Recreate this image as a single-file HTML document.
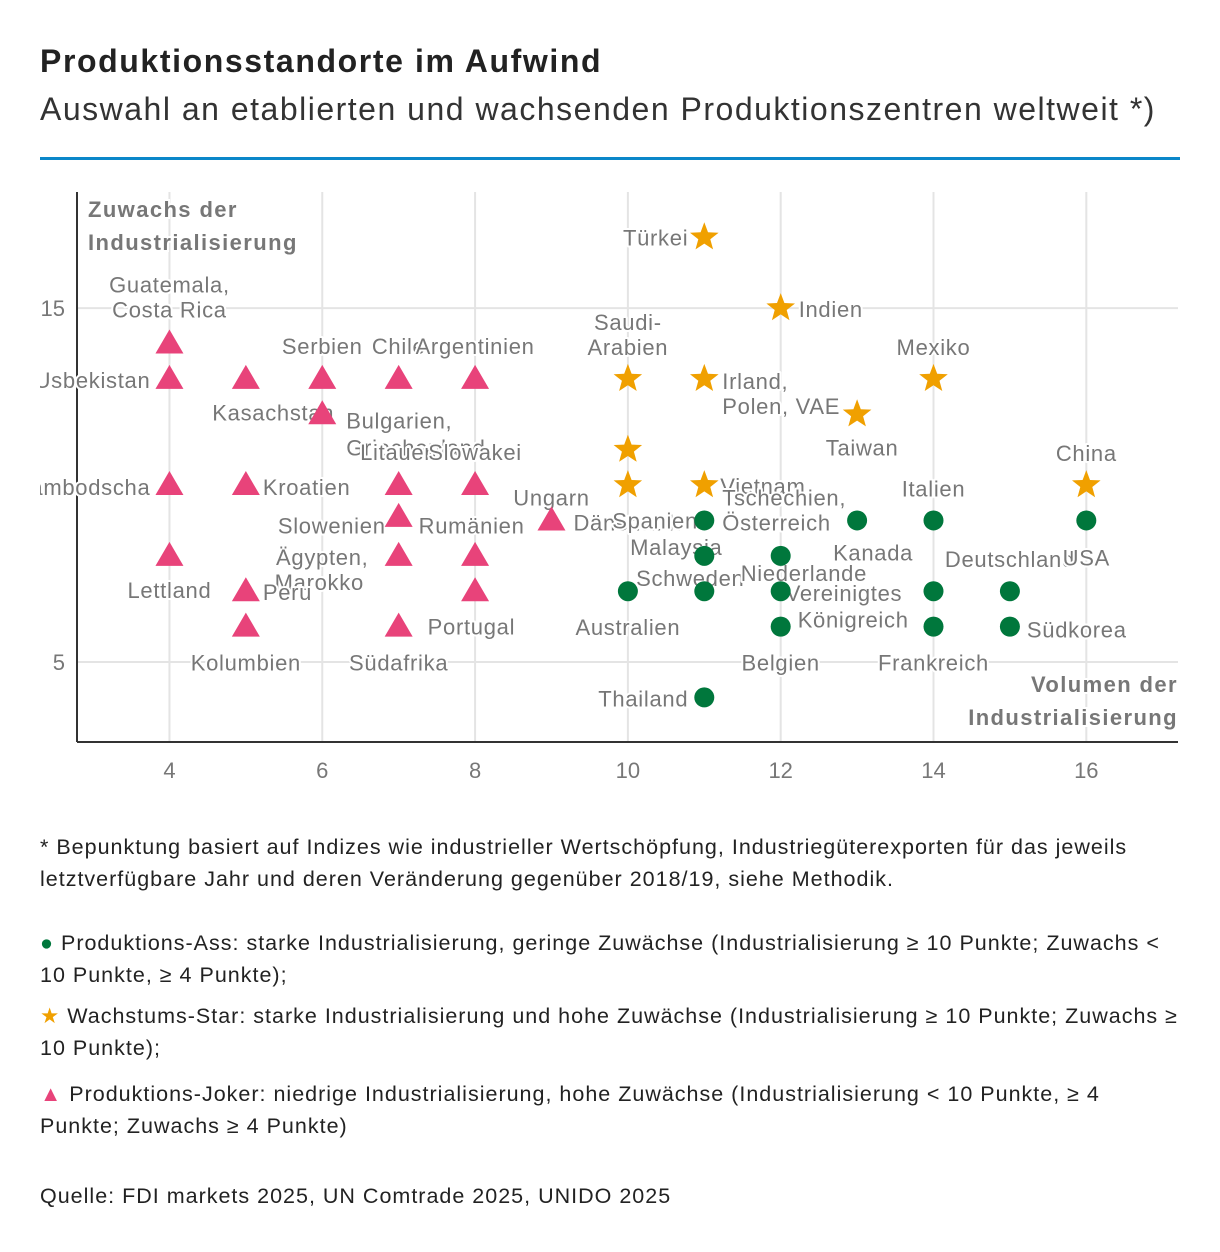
<!DOCTYPE html>
<html><head><meta charset="utf-8">
<style>
body{margin:0;background:#fff;width:1220px;height:1252px;overflow:hidden;font-family:"Liberation Sans",sans-serif;color:#222}
.t{position:absolute;left:40px;white-space:nowrap}
.note{position:absolute;left:40px;width:1145px;font-size:21.5px;letter-spacing:1px;line-height:32px;color:#222}
</style></head><body>
<div class="t" style="top:43px;font-size:32px;letter-spacing:1.6px;font-weight:bold">Produktionsstandorte im Aufwind</div>
<div class="t" style="top:91px;font-size:32px;letter-spacing:1.5px;color:#333">Auswahl an etablierten und wachsenden Produktionszentren weltweit *)</div>
<div style="position:absolute;left:40px;top:157px;width:1140px;height:3px;background:#0a87c9"></div>
<svg id="chart" width="1220" height="800" style="position:absolute;left:0;top:0" font-family="Liberation Sans, sans-serif"></svg>
<div class="note" style="top:831px">* Bepunktung basiert auf Indizes wie industrieller Wertschöpfung, Industriegüterexporten für das jeweils letztverfügbare Jahr und deren Veränderung gegenüber 2018/19, siehe Methodik.</div>
<div class="note" style="top:927px"><span style="color:#00773c">●</span> Produktions-Ass: starke Industrialisierung, geringe Zuwächse (Industrialisierung ≥ 10 Punkte; Zuwachs &lt; 10 Punkte, ≥ 4 Punkte);</div>
<div class="note" style="top:1000px"><span style="color:#f0a000">★</span> Wachstums-Star: starke Industrialisierung und hohe Zuwächse (Industrialisierung ≥ 10 Punkte; Zuwachs ≥ 10 Punkte);</div>
<div class="note" style="top:1078px"><span style="color:#e8437a">▲</span> Produktions-Joker: niedrige Industrialisierung, hohe Zuwächse (Industrialisierung &lt; 10 Punkte, ≥ 4 Punkte; Zuwachs ≥ 4 Punkte)</div>
<div class="note" style="top:1180px">Quelle: FDI markets 2025, UN Comtrade 2025, UNIDO 2025</div>
<script>
const xTicks=[4,6,8,10,12,14,16];
const yTicks=[5,15];
const jokerX=[4,4,5,6,7,8,6,4,5,7,8,7,9,4,7,8,5,8,5,7];
const jokerY=[14,13,13,13,13,13,12,10,10,10,10,9.1,9,8,8,8,7,7,6,6];
const assX=[11,13,14,16,11,12,10,11,12,14,15,12,14,15,11];
const assY=[9,9,9,9,8,8,7,7,7,7,7,6,6,6,4];
const starX=[11,12,10,11,14,13,10,10,11,16];
const starY=[17,15,13,13,13,12,11,10,10,10];
const labelText=["Guatemala,","Costa Rica","Serbien","Chile","Argentinien","Usbekistan","Kasachstan","Bulgarien,","Griechenland","Litauen","Slowakei","Kambodscha","Kroatien","Slowenien","Rumänien","Ägypten,","Marokko","Lettland","Peru","Portugal","Kolumbien","Südafrika","Ungarn","Dänemark","Türkei","Indien","Saudi-","Arabien","Irland,","Polen, VAE","Mexiko","Taiwan","China","Vietnam","Spanien","Tschechien,","Österreich","Italien","Kanada","Malaysia","Deutschland","USA","Schweden","Niederlande","Vereinigtes","Königreich","Australien","Südkorea","Belgien","Frankreich","Thailand"];
const labelX=[4,4,6,7,8,4,6,6,6,7,8,4,5,7,7,6,6,4,5,7,5,7,9,9,11,12,10,10,11,11,14,13,16,11,11,11,11,14,13,11,15,16,11,12,12,12,10,15,12,14,11];
const labelY=[14,14,13,13,13,13,12,12,12,10,10,10,10,9,9,8,8,8,7,6,6,6,9,9,17,15,13,13,13,13,13,12,10,10,9,9,9,9,9,8,7,9,7,7,7,6,7,6,6,6,4];
const labelDx=[0,0,0,0,0,-19,12,24,24,0,0,-19,17,-13,20,0,-3,0,17,29,0,0,0,22,-16,18,0,0,18,18,0,5,0,16,-92,18,18,0,16,-28,0,0,-14,-40,5,17,0,17,0,0,-16];
const labelDy=[-51,-26,-25,-25,-25,9,6,14,41,-25,-25,10,10,13,13,9,34,42,9,8,44,44,-15,10,8,9,-49,-24,10,35,-24,41,-24,9,8,-15,10,-24,40,-1,-24,45,-5,-10,10,1,44,11,44,44,9];
const labelAnchor=["middle","middle","middle","middle","middle","end","end","start","start","middle","middle","end","start","end","start","middle","middle","middle","start","start","middle","middle","middle","start","end","start","middle","middle","start","start","middle","middle","middle","start","start","start","start","middle","middle","middle","middle","middle","middle","start","start","start","middle","start","middle","middle","end"];

const svg=document.getElementById('chart');
const NS='http://www.w3.org/2000/svg';
const X0=77,X1=1178,Y0=192,Y1=742;
const xMin=2.79,xMax=17.2,yMin=2.74,yMax=18.28;
const sx=v=>X0+(v-xMin)/(xMax-xMin)*(X1-X0);
const sy=v=>Y1-(v-yMin)/(yMax-yMin)*(Y1-Y0);
function mk(tag,attrs,parent){const e=document.createElementNS(NS,tag);for(const k in attrs)e.setAttribute(k,attrs[k]);(parent||svg).appendChild(e);return e;}
const defs=mk('defs',{});
const cp=mk('clipPath',{id:'clip'},defs);
mk('rect',{x:40,y:150,width:1145,height:600},cp);
xTicks.forEach(t=>{const l=mk('line',{x1:sx(t),x2:sx(t),y1:Y0,y2:Y1,stroke:'#e4e4e4','stroke-width':2});


const tx=mk('text',{x:sx(t),y:778,'text-anchor':'middle','font-size':22,fill:'#777'});tx.textContent=t;

});
yTicks.forEach(t=>{const l=mk('line',{x1:X0,x2:X1,y1:sy(t),y2:sy(t),stroke:'#e4e4e4','stroke-width':2});


const tx=mk('text',{x:65,y:sy(t)+8,'text-anchor':'end','font-size':22,fill:'#777'});tx.textContent=t;

});
const ay=mk('line',{x1:X0,x2:X0,y1:Y0,y2:Y1,stroke:'#333','stroke-width':2});


const ax=mk('line',{x1:X0,x2:X1,y1:Y1,y2:Y1,stroke:'#333','stroke-width':2});


const g=mk('g',{'clip-path':'url(#clip)'});
function starPath(cx,cy,R){let d='';for(let i=0;i<10;i++){const r=i%2?R*0.42:R;const a=-Math.PI/2+i*Math.PI/5;d+=(i?'L':'M')+(cx+r*Math.cos(a)).toFixed(1)+' '+(cy+r*Math.sin(a)).toFixed(1);}return d+'Z';}
labelText.forEach((s,i)=>{const t=mk('text',{x:sx(labelX[i])+labelDx[i],y:sy(labelY[i])+labelDy[i],'text-anchor':labelAnchor[i],'font-size':22,'letter-spacing':0.7,fill:'#777',stroke:'#fff','stroke-width':4,'paint-order':'stroke','stroke-linejoin':'round'},g);t.textContent=s;

});
jokerX.forEach((v,i)=>{const cx=sx(v),cy=sy(jokerY[i]);const p=mk('path',{d:`M${cx} ${cy-14}L${cx+14} ${cy+10}L${cx-14} ${cy+10}Z`,fill:'#e8437a'},g);

});
assX.forEach((v,i)=>{const c=mk('circle',{cx:sx(v),cy:sy(assY[i]),r:10,fill:'#00773c'},g);

});
starX.forEach((v,i)=>{const p=mk('path',{d:starPath(sx(v),sy(starY[i]),15),fill:'#f0a000'},g);

});
[["Zuwachs der",88,217,"start"],["Industrialisierung",88,250,"start"],["Volumen der",1178,692,"end"],["Industrialisierung",1178,725,"end"]].forEach(a=>{const t=mk('text',{x:a[1],y:a[2],'text-anchor':a[3],'font-size':22,'letter-spacing':1.4,'font-weight':'bold',fill:'#777',stroke:'#fff','stroke-width':4,'paint-order':'stroke'});t.textContent=a[0];

});
</script>
</body></html>
